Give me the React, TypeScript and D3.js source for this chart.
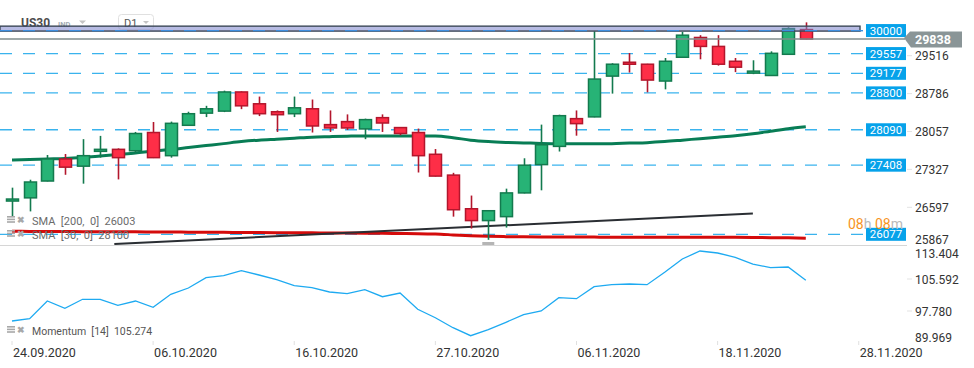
import React from 'react';
import * as d3 from 'd3';

// daily candles, index 0 = 24.09.2020
const opens = [26737, 26779, 27103, 27528, 27389, 27675, 27713, 27686, 28037, 27591, 28176, 28410, 28449, 28818, 28590, 28437, 28399, 28494, 28189, 28247, 28106, 28323, 28132, 28037, 27618, 27217, 26569, 26341, 26417, 26874, 27419, 27770, 28304, 28338, 29123, 29390, 29352, 29028, 29486, 29867, 29695, 29409, 29180, 29135, 29543, 30019];
const highs = [26975, 27128, 27604, 27623, 27909, 27972, 27732, 28048, 28239, 28247, 28437, 28551, 28843, 28830, 28729, 28462, 28729, 28672, 28462, 28386, 28304, 28386, 28140, 28113, 27719, 27261, 26823, 26540, 26956, 27541, 28189, 28380, 28462, 29987, 29371, 29567, 29360, 29472, 29973, 29911, 29911, 29472, 29428, 29600, 30063, 30158];
const lows = [26422, 26518, 27095, 27223, 27052, 27553, 27134, 27642, 27545, 27553, 28163, 28334, 28430, 28487, 28353, 28048, 28334, 28037, 28048, 28087, 27909, 28048, 27985, 27267, 27190, 26417, 26188, 25971, 26207, 26865, 26924, 27671, 27976, 28330, 28786, 29192, 28811, 28868, 29478, 29447, 29325, 29200, 29161, 29130, 29535, 29830];
const closes = [26756, 27084, 27528, 27370, 27591, 27713, 27553, 28018, 27553, 28214, 28399, 28494, 28818, 28551, 28399, 28380, 28513, 28163, 28125, 28125, 28285, 28220, 28018, 27591, 27198, 26550, 26341, 26531, 26874, 27408, 27801, 28361, 28208, 29066, 29352, 29352, 29047, 29409, 29911, 29695, 29352, 29295, 29219, 29562, 30038, 29838];

const sma30 = [27509, 27518, 27528, 27537, 27557, 27585, 27614, 27642, 27681, 27709, 27747, 27785, 27823, 27862, 27890, 27909, 27928, 27947, 27957, 27966, 27972, 27972, 27972, 27972, 27970, 27938, 27890, 27862, 27846, 27837, 27827, 27821, 27820, 27820, 27823, 27833, 27842, 27862, 27890, 27919, 27947, 27976, 28014, 28062, 28109, 28147];
const sma200 = [26135, 26133, 26131, 26130, 26128, 26127, 26125, 26124, 26122, 26120, 26119, 26117, 26115, 26113, 26111, 26109, 26107, 26105, 26102, 26100, 26098, 26096, 26093, 26090, 26082, 26066, 26049, 26038, 26032, 26028, 26026, 26025, 26024, 26023, 26022, 26022, 26021, 26021, 26020, 26020, 26019, 26018, 26016, 26013, 26009, 26003];
const momentum = [95.34, 95.90, 100.22, 98.44, 100.64, 100.64, 99.17, 100.22, 98.68, 101.86, 103.39, 105.91, 106.40, 107.62, 106.57, 105.42, 103.96, 103.47, 102.42, 102.00, 102.98, 101.27, 102.17, 98.19, 96.14, 93.70, 91.75, 93.21, 95.02, 96.88, 97.78, 101.03, 100.78, 103.71, 104.20, 104.37, 104.20, 107.23, 110.47, 112.43, 111.94, 110.89, 109.25, 108.35, 108.52, 105.27];

const levels = [30000, 29557, 29177, 28800, 28090, 27408, 26077];
const zoneRange = [29990, 30085];
const trendIdx = [5.8, 42];
const trendPrice = [25890, 26480];
const lastPrice = 29838;

const priceTicks = [29516, 28786, 28057, 27327, 26597, 25867];
const momTicks = [113.404, 105.592, 97.78, 89.969];
const dateIdx = [0, 8, 16, 24, 32, 40, 48];
const dateLabels = ['24.09.2020', '06.10.2020', '16.10.2020', '27.10.2020', '06.11.2020', '18.11.2020', '28.11.2020'];

const FONT = 'Roboto, sans-serif';
const UP = '#27b376', UP_LINE = '#137a4e';
const DN = '#fe2e47', DN_LINE = '#b3162c';
const LEVEL = '#18a6ea';

function LegendIcons({ y }: { y: number }) {
  return (
    <g fill="#a8a8a8">
      <rect x={7} y={y} width={8} height={1.6} />
      <rect x={7} y={y + 2.6} width={8} height={1.6} />
      <rect x={7} y={y + 5.2} width={8} height={1.6} />
      <text x={17} y={y + 7} fontSize={9} fontFamily={FONT} fontWeight="bold">✖</text>
    </g>
  );
}

export default function App() {
  const width = 974;
  const height = 368;

  const x = d3.scaleLinear().domain([0, 45]).range([12, 12 + 45 * 17.64]);
  const y = d3.scaleLinear().domain([29516, 26597]).range([55.7, 207.3]);
  const ym = d3.scaleLinear().domain([105.592, 97.78]).range([279, 311]);

  const bodyW = 12;
  const plotRight = 866;

  const idx = d3.range(opens.length);
  const smaLine = d3.line<number>().x((d, i) => x(i)).y(d => y(d)).curve(d3.curveMonotoneX);
  const momLine = d3.line<number>().x((d, i) => x(i)).y(d => ym(d));

  const boxW = 40;

  return (
    <svg width={width} height={height} style={{ position: 'absolute', left: 0, top: 0, background: '#fff' }}>
      <defs>
        <clipPath id="main">
          <rect x={0} y={20} width={870} height={225} />
        </clipPath>
      </defs>

      {/* header */}
      <text x={21} y={27} fontFamily={FONT} fontSize={12} fontWeight="bold" fill="#4d4d4d">US30</text>
      <text x={58} y={27} fontFamily={FONT} fontSize={7.5} fontWeight="bold" fill="#a3abb2">IND</text>
      <path d="M79,20.5 L86,20.5 L82.5,24 Z" fill="#c4c4c4" />
      <rect x={118.5} y={14.5} width={35} height={15} rx={3} fill="#fff" stroke="#e0e0e0" />
      <text x={124} y={26.5} fontFamily={FONT} fontSize={11} fill="#555">D1</text>
      <path d="M143,21 L149,21 L146,24 Z" fill="#c4c4c4" />

      {/* pane separator */}
      <line x1={0} x2={907} y1={245.5} y2={245.5} stroke="#d6d6d6" />

      <g clipPath="url(#main)">
        {/* level lines */}
        {levels.map(l => (
          <line key={l} x1={0} x2={plotRight} y1={y(l)} y2={y(l)} stroke={LEVEL} strokeOpacity={0.85} strokeWidth={1.3} strokeDasharray="12,11" />
        ))}

        {/* SMA lines and trendline */}
        <path d={smaLine(sma200) || ''} fill="none" stroke="#d40b0b" strokeWidth={3} />
        <path d={smaLine(sma30) || ''} fill="none" stroke="#087d55" strokeWidth={3} />
        <line x1={x(trendIdx[0])} y1={y(trendPrice[0])} x2={x(trendIdx[1])} y2={y(trendPrice[1])} stroke="#2a2e33" strokeWidth={2} />

        {/* candles */}
        {idx.map(i => {
          const up = closes[i] >= opens[i];
          const top = y(Math.max(opens[i], closes[i]));
          const bot = y(Math.min(opens[i], closes[i]));
          const cx = Math.round(x(i)) + 0.5;
          return (
            <g key={i}>
              <line x1={cx} x2={cx} y1={y(highs[i])} y2={y(lows[i])} stroke={up ? UP_LINE : DN_LINE} strokeWidth={1.6} />
              <rect x={cx - bodyW / 2} y={top} width={bodyW} height={Math.max(bot - top, 2)}
                fill={up ? UP : DN} stroke={up ? UP_LINE : DN_LINE} strokeWidth={1.5} />
            </g>
          );
        })}

        {/* resistance zone */}
        <rect x={0} y={y(zoneRange[1])} width={860} height={y(zoneRange[0]) - y(zoneRange[1])}
          fill="#7c84cc" fillOpacity={0.55} stroke="#3c4858" strokeWidth={1.4} />
        <line x1={0} x2={plotRight} y1={y(30000)} y2={y(30000)} stroke="#3d8fe0" strokeWidth={1.2} strokeDasharray="12,11" />
      </g>

      {/* last price line */}
      <line x1={0} x2={905} y1={y(lastPrice)} y2={y(lastPrice)} stroke="#7f8c8d" strokeWidth={1.4} />

      {/* low marker */}
      <rect x={x(27) - 6} y={242} width={12} height={3} fill="#b5b5b5" />

      {/* level boxes */}
      {levels.map(l => (
        <g key={'b' + l}>
          <rect x={plotRight} y={y(l) - 6.5} width={boxW} height={13} fill="#06a2ea" />
          <text x={plotRight + boxW / 2} y={y(l) + 4} textAnchor="middle" fontFamily={FONT} fontSize={11.5} fill="#fff">{l}</text>
        </g>
      ))}

      {/* price axis */}
      {priceTicks.map(t => {
        const ty = Math.min(y(t), 239.5);
        return (
          <g key={t}>
            {y(t) < 230 && <line x1={907} x2={912} y1={y(t)} y2={y(t)} stroke="#e3e3e3" />}
            <text x={915} y={ty + 4.5} fontFamily={FONT} fontSize={12} fill="#333">{t}</text>
          </g>
        );
      })}

      {/* last price tag */}
      <path d={`M904,${y(lastPrice) - 1} L910,${y(lastPrice) - 7.5} L962,${y(lastPrice) - 7.5} L962,${y(lastPrice) + 8.5} L911,${y(lastPrice) + 8.5} Z`} fill="#8a9597" />
      <text x={915} y={y(lastPrice) + 5} fontFamily={FONT} fontSize={12.5} fontWeight="bold" fill="#fff">{lastPrice}</text>

      {/* countdown */}
      <text x={848} y={229} fontFamily={FONT} fontSize={14}>
        <tspan fill="#f7941d">08</tspan><tspan fill="#b9b9b9">h </tspan>
        <tspan fill="#f7941d">08</tspan><tspan fill="#b9b9b9">m</tspan>
      </text>

      {/* legends */}
      <LegendIcons y={216} />
      <text x={32} y={224.5} fontFamily={FONT} fontSize={11} fill="#6b6b6b" style={{ whiteSpace: 'pre' }}>SMA  [200,  0]  26003</text>
      <LegendIcons y={230} />
      <text x={32} y={238.5} fontFamily={FONT} fontSize={11} fill="#6b6b6b" style={{ whiteSpace: 'pre' }}>SMA  [30,  0]  28100</text>

      {/* momentum pane */}
      <path d={momLine(momentum) || ''} fill="none" stroke="#1eaaf1" strokeWidth={1.3} />
      {momTicks.map(t => {
        const ty = Math.max(253.5, Math.min(ym(t), 337));
        return (
          <g key={t}>
            {ym(t) > 260 && ym(t) < 330 && <line x1={907} x2={912} y1={ym(t)} y2={ym(t)} stroke="#e3e3e3" />}
            <text x={915} y={ty + 4.5} fontFamily={FONT} fontSize={12} fill="#333">{t.toFixed(3)}</text>
          </g>
        );
      })}
      <LegendIcons y={326} />
      <text x={32} y={335} fontFamily={FONT} fontSize={10.5} fill="#555" style={{ whiteSpace: 'pre' }}>Momentum  [14]  105.274</text>

      {/* date axis */}
      {dateIdx.map((d, k) => (
        <g key={d}>
          <line x1={x(d)} x2={x(d)} y1={341} y2={345} stroke="#e0e0e0" />
          <text x={x(d) + 1} y={357} fontFamily={FONT} fontSize={12.5} fill="#333">{dateLabels[k]}</text>
        </g>
      ))}
    </svg>
  );
}
